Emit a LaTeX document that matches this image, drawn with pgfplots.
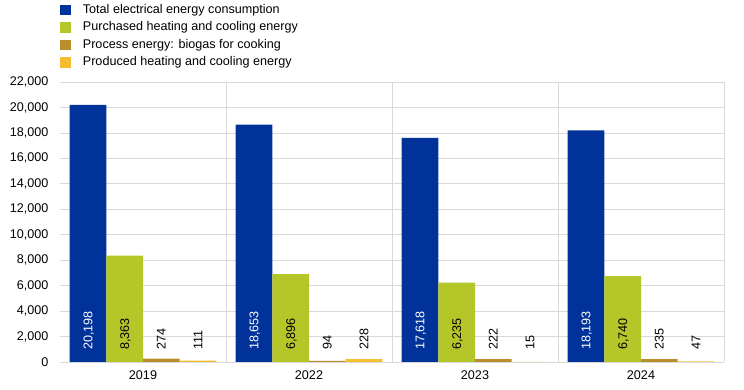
\documentclass[border=0pt]{standalone}
\usepackage{fontspec}
\setmainfont{Liberation Sans}
\usepackage{pgfplots}
\pgfplotsset{compat=1.18}
\definecolor{cblue}{RGB}{0,50,153}
\definecolor{cgreen}{RGB}{180,198,40}
\definecolor{cbrown}{RGB}{184,142,44}
\definecolor{cyellow}{RGB}{245,190,50}
\definecolor{cgrid}{RGB}{217,217,217}
\newcommand{\chfont}{\fontsize{12.6bp}{14bp}\selectfont}
\pgfplotsset{
  sq/.style={ybar, bar width=0.221, draw=none,
    legend image code/.code={\fill[##1] (0bp,-5.35bp) rectangle (10.7bp,5.35bp);}},
  lab/.style={only marks, mark=*, mark size=0pt, mark options={draw=none,fill=none},
    point meta=explicit symbolic, nodes near coords, forget plot,
    every node near coord/.append style={rotate=90, anchor=west, inner sep=0pt,
      text depth=0pt, font=\chfont}},
}
\begin{document}
\begin{tikzpicture}
\useasboundingbox (-60bp,-28bp) rectangle (684bp,362bp);
\begin{axis}[
  at={(0,0)}, anchor=south west,
  scale only axis, width=664bp, height=280bp,
  xmin=-0.5, xmax=3.5, ymin=0, ymax=22000,
  xtick={0,1,2,3}, xticklabels={2019,2022,2023,2024},
  ytick={0,2000,...,22000},
  scaled y ticks=false,
  major tick length=0pt,
  axis line style={draw=none},
  ymajorgrids, grid style={cgrid, line width=0.8bp},
  extra x ticks={0.5,1.5,2.5,3.5}, extra x tick labels={},
  extra x tick style={xmajorgrids=true, major tick length=0pt},
  tick label style={font=\chfont},
  yticklabel style={xshift=-8bp},
  xticklabel style={yshift=-5bp},
  /pgf/number format/.cd, 1000 sep={,}, assume math mode=true, /pgfplots/.cd,
  legend style={at={(0,1)}, anchor=north west, xshift=0bp, yshift=78bp,
    draw=none, fill=none, inner sep=0pt, row sep=6bp, column sep=12bp,
    font=\chfont,
    nodes={inner sep=0pt, text height=9bp, text depth=2.5bp}},
  legend cell align=left,
]
\addplot[sq, bar shift=-0.3315, fill=cblue] coordinates {(0,20198) (1,18653) (2,17618) (3,18193)};
\addlegendentry{Total electrical energy consumption}
\addplot[sq, bar shift=-0.1105, fill=cgreen] coordinates {(0,8363) (1,6896) (2,6235) (3,6740)};
\addlegendentry{Purchased heating and cooling energy}
\addplot[sq, bar shift=0.1105, fill=cbrown] coordinates {(0,274) (1,94) (2,222) (3,235)};
\addlegendentry{Process energy: biogas for cooking}
\addplot[sq, bar shift=0.3315, fill=cyellow] coordinates {(0,111) (1,228) (2,15) (3,47)};
\addlegendentry{Produced heating and cooling energy}

\addplot[lab, every node near coord/.append style={text=white}] table[meta=l] {
x y l
-0.3315 943 20,198
0.6685 943 18,653
1.6685 943 17,618
2.6685 943 18,193
};
\addplot[lab, every node near coord/.append style={text=black}] table[meta=l] {
x y l
-0.1105 943 8,363
0.8895 943 6,896
1.8895 943 6,235
2.8895 943 6,740
};
\addplot[lab, every node near coord/.append style={text=black}] table[meta=l] {
x y l
0.1105 943 274
1.1105 943 94
2.1105 943 222
3.1105 943 235
};
\addplot[lab, every node near coord/.append style={text=black}] table[meta=l] {
x y l
0.3315 943 111
1.3315 943 228
2.3315 943 15
3.3315 943 47
};
\end{axis}
\end{tikzpicture}
\end{document}
